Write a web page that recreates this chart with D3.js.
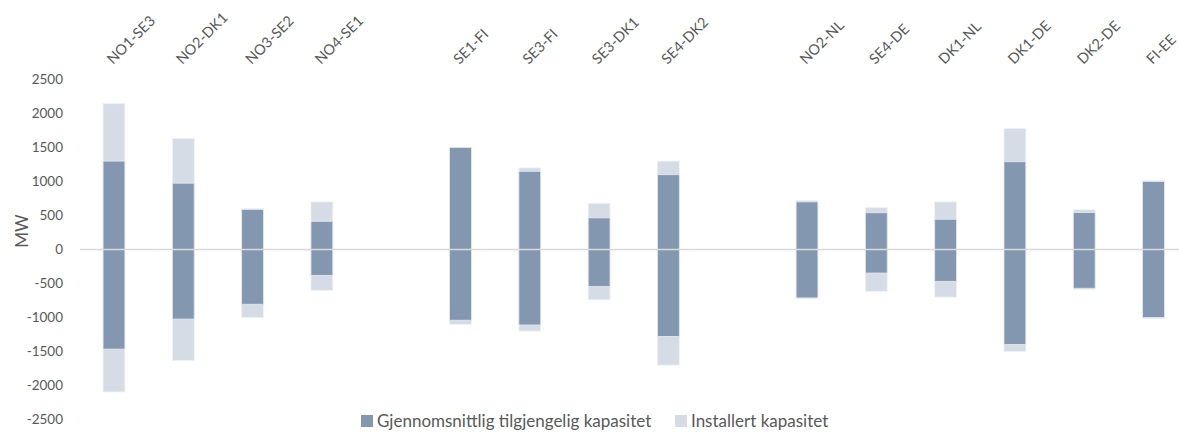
<!DOCTYPE html>
<html>
<head>
<meta charset="utf-8">
<script src="https://cdn.jsdelivr.net/npm/d3@7"></script>
<style>
  body { margin: 0; background: #fff; }
  svg text { font-family: Lato, "Open Sans", sans-serif; fill: #595959; }
</style>
</head>
<body>
<div id="chart"></div>
<script>
// connections, "" marks an empty slot between the groups
const categories = ['NO1-SE3', 'NO2-DK1', 'NO3-SE2', 'NO4-SE1', '',
    'SE1-FI', 'SE3-FI', 'SE3-DK1', 'SE4-DK2', '',
    'NO2-NL', 'SE4-DE', 'DK1-NL', 'DK1-DE', 'DK2-DE', 'FI-EE'];

// Installert kapasitet (export up / import down)
const installedUp   = [2145, 1632, 600, 700, null, 1500, 1200, 680, 1300, null, 723, 615, 700, 1780, 585, 1016];
const installedDown = [-2095, -1632, -1000, -600, null, -1100, -1200, -740, -1700, null, -723, -615, -700, -1500, -585, -1016];

// Gjennomsnittlig tilgjengelig kapasitet
const availableUp   = [1300, 975, 590, 415, null, 1500, 1150, 465, 1100, null, 700, 540, 445, 1290, 545, 1000];
const availableDown = [-1465, -1023, -805, -380, null, -1040, -1110, -542, -1278, null, -712, -346, -468, -1396, -570, -1000];

const yTicks = [2500, 2000, 1500, 1000, 500, 0, -500, -1000, -1500, -2000, -2500];

const seriesNames = ['Gjennomsnittlig tilgjengelig kapasitet', 'Installert kapasitet'];
const colors = { available: '#8497b0', installed: '#d6dce5' };

const width = 1179, height = 433;

const svg = d3.select('#chart')
    .append('svg')
    .attr('width', width)
    .attr('height', height);

const x = d3.scaleBand()
    .domain(d3.range(categories.length))
    .range([79.5, 1188])
    .paddingInner(0.685)
    .paddingOuter(0.34);

const y = d3.scaleLinear()
    .domain([-2500, 2500])
    .range([419.5, 79.5]);

// y labels, no axis line
svg.append('g')
    .selectAll('text')
    .data(yTicks)
    .enter()
    .append('text')
    .attr('x', 63)
    .attr('y', d => y(d))
    .attr('dy', '0.35em')
    .attr('text-anchor', 'end')
    .attr('font-size', '13.5px')
    .text(d => d);

svg.append('text')
    .attr('transform', `translate(28,231) rotate(-90)`)
    .attr('text-anchor', 'middle')
    .attr('font-size', '17px')
    .text('MW');

const idx = d3.range(categories.length).filter(i => categories[i] !== '');

// installed first, available on top
const bars = svg.append('g');
bars.selectAll('rect.inst')
    .data(idx)
    .enter()
    .append('rect')
    .attr('class', 'inst')
    .attr('x', i => x(i))
    .attr('width', x.bandwidth())
    .attr('y', i => y(installedUp[i]))
    .attr('height', i => y(installedDown[i]) - y(installedUp[i]))
    .attr('fill', colors.installed)
    .attr('stroke', '#eef1f6')
    .attr('stroke-width', 0.8);

bars.selectAll('rect.avail')
    .data(idx)
    .enter()
    .append('rect')
    .attr('class', 'avail')
    .attr('x', i => x(i))
    .attr('width', x.bandwidth())
    .attr('y', i => y(availableUp[i]))
    .attr('height', i => y(availableDown[i]) - y(availableUp[i]))
    .attr('fill', colors.available)
    .attr('stroke', '#e6eaf0')
    .attr('stroke-width', 0.8);

// zero line over the bars
svg.append('line')
    .attr('x1', 80)
    .attr('x2', width)
    .attr('y1', y(0))
    .attr('y2', y(0))
    .attr('stroke', '#d9d9d9')
    .attr('stroke-width', 1.5);

// category labels at the top, rotated
svg.append('g')
    .selectAll('text')
    .data(idx)
    .enter()
    .append('text')
    .attr('transform', i => `translate(${x(i) + x.bandwidth() / 2 - 1},65) rotate(-45)`)
    .attr('font-size', '14.5px')
    .text(i => categories[i]);

// legend
const legend = svg.append('g');
const legendItems = [
    { name: seriesNames[0], color: colors.available, x: 361 },
    { name: seriesNames[1], color: colors.installed, x: 675 }
];
legendItems.forEach(d => {
    legend.append('rect')
        .attr('x', d.x)
        .attr('y', 415)
        .attr('width', 12)
        .attr('height', 12)
        .attr('fill', d.color);
    legend.append('text')
        .attr('x', d.x + 16)
        .attr('y', 427)
        .attr('font-size', '17px')
        .text(d.name);
});
</script>
</body>
</html>
